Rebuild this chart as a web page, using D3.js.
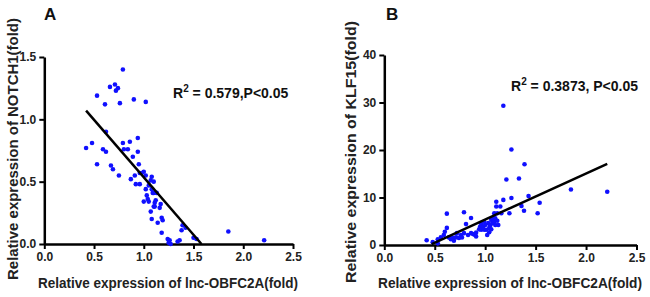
<!DOCTYPE html>
<html>
<head>
<meta charset="utf-8">
<script src="https://cdn.jsdelivr.net/npm/d3@7"></script>
<style>
  body { margin: 0; background: #fff; }
  svg text { font-family: Arial, "Liberation Sans", sans-serif; font-weight: bold; }
</style>
</head>
<body>
<svg id="chart" width="650" height="297"></svg>
<script>
// Panel A: lnc-OBFC2A vs NOTCH1
const notchPoints = [
  [0.42,0.77],[0.48,0.81],[0.53,1.19],[0.53,0.64],[0.61,1.12],[0.59,0.76],[0.62,0.74],[0.62,0.90],
  [0.66,1.26],[0.67,0.63],[0.69,0.60],[0.71,1.28],[0.72,1.23],[0.74,1.25],[0.76,1.13],[0.75,0.55],
  [0.79,1.40],[0.79,0.81],[0.80,0.76],[0.84,0.76],[0.86,0.82],[0.87,0.52],[0.90,1.16],[0.89,0.70],
  [0.91,0.55],[0.92,0.48],[0.94,0.85],[0.94,0.74],[0.95,0.64],[0.96,0.57],[0.96,0.48],[0.98,0.57],
  [1.00,0.58],[1.00,0.34],[1.02,1.14],[1.02,0.55],[1.02,0.44],[1.03,0.39],[1.04,0.36],[1.05,0.34],
  [1.05,0.47],[1.07,0.51],[1.08,0.54],[1.08,0.44],[1.09,0.41],[1.07,0.26],[1.08,0.20],[1.10,0.50],
  [1.10,0.41],[1.11,0.33],[1.11,0.30],[1.12,0.35],[1.10,0.30],[1.13,0.41],[1.14,0.17],[1.16,0.29],
  [1.17,0.32],[1.18,0.21],[1.19,0.19],[1.18,0.09],[1.24,0.04],[1.25,0.01],[1.26,0.03],[1.27,0.00],
  [1.34,0.02],[1.36,0.03],[1.38,0.11],[1.39,0.15],[1.42,0.13],[1.50,0.05],[1.53,0.04],[1.85,0.10],
  [2.21,0.03]
];
const notchFit = [[0.42,1.07],[1.58,0]];

// Panel B: lnc-OBFC2A vs KLF15
const klfPoints = [
  [0.42,1.0],[0.48,0.6],[0.53,1.2],[0.53,0.35],[0.56,1.6],[0.59,2.1],[0.60,2.8],[0.62,3.6],
  [0.62,6.6],[0.64,1.6],[0.66,1.2],[0.68,1.5],[0.69,0.9],[0.71,1.6],[0.72,2.5],[0.74,1.5],
  [0.76,2.1],[0.77,1.6],[0.79,2.5],[0.79,6.9],[0.81,4.4],[0.83,2.1],[0.86,2.5],[0.86,5.7],
  [0.88,2.3],[0.90,2.1],[0.91,2.6],[0.91,1.8],[0.94,3.3],[0.95,3.9],[0.96,4.6],[0.96,3.2],
  [0.98,3.9],[0.99,4.9],[0.99,3.2],[1.00,4.2],[1.01,3.2],[1.02,2.1],[1.03,4.6],[1.04,2.7],
  [1.04,3.6],[1.05,4.1],[1.06,5.3],[1.06,3.3],[1.07,4.6],[1.08,5.6],[1.09,6.7],[1.09,4.9],
  [1.10,4.2],[1.10,5.6],[1.11,8.1],[1.11,9.1],[1.12,6.7],[1.12,5.1],[1.13,4.2],[1.15,8.1],
  [1.16,6.7],[1.18,9.5],[1.18,29.3],[1.21,13.8],[1.24,6.7],[1.26,9.9],[1.26,20.1],[1.335,14.0],
  [1.36,8.2],[1.385,7.2],[1.39,17.0],[1.43,10.3],[1.54,8.9],[1.52,6.7],[1.85,11.7],[2.21,11.2]
];
const klfFit = [[0.47,0.2],[2.21,17.1]];

const xTicks = [0, 0.5, 1.0, 1.5, 2.0, 2.5];
const notchTicks = [0, 0.5, 1.0, 1.5];
const klfTicks = [0, 10, 20, 30, 40];

const svg = d3.select("#chart");

function drawPanel(opts) {
  const x = d3.scaleLinear().domain([0, 2.5]).range(opts.xRange);
  const y = d3.scaleLinear().domain(opts.yDomain).range(opts.yRange);
  const g = svg.append("g");

  // axes
  const xAxis = g.append("g")
    .attr("transform", "translate(0," + opts.yRange[0] + ")")
    .call(d3.axisBottom(x).tickValues(xTicks).tickFormat(d3.format(".1f"))
      .tickSize(5).tickSizeOuter(0).tickPadding(3));
  const yAxis = g.append("g")
    .attr("transform", "translate(" + opts.xRange[0] + ",0)")
    .call(d3.axisLeft(y).tickValues(opts.yTicks).tickFormat(opts.yFormat)
      .tickSize(5).tickSizeOuter(0).tickPadding(3));
  [xAxis, yAxis].forEach(a => {
    a.select(".domain").attr("stroke", "#000").attr("stroke-width", 2.5);
    a.selectAll(".tick line").attr("stroke", "#000").attr("stroke-width", 2);
    a.selectAll(".tick text").attr("fill", "#222").style("font-size", "12px");
  });

  // points
  g.append("g").selectAll("circle")
    .data(opts.points)
    .join("circle")
    .attr("cx", d => x(d[0]))
    .attr("cy", d => y(d[1]))
    .attr("r", 2.3)
    .attr("fill", "#1010ff");

  // fitted line
  g.append("path")
    .datum(opts.fit)
    .attr("fill", "none")
    .attr("stroke", "#000")
    .attr("stroke-width", 2.5)
    .attr("d", d3.line().x(d => x(d[0])).y(d => y(d[1])));

  // titles
  g.append("text")
    .attr("x", opts.xTitle[0]).attr("y", opts.xTitle[1])
    .attr("text-anchor", "middle")
    .attr("textLength", opts.xTitle[2]).attr("lengthAdjust", "spacingAndGlyphs")
    .style("font-size", "14px").attr("fill", "#222")
    .text("Relative expression of lnc-OBFC2A(fold)");
  g.append("text")
    .attr("transform", "translate(" + opts.yTitle[0] + "," + opts.yTitle[1] + ") rotate(-90)")
    .attr("text-anchor", "middle")
    .attr("textLength", 262).attr("lengthAdjust", "spacingAndGlyphs")
    .style("font-size", "14px").attr("fill", "#222")
    .text(opts.yLabel);

  g.append("text")
    .attr("x", opts.letter[0]).attr("y", opts.letter[1])
    .style("font-size", "17px").attr("fill", "#111")
    .text(opts.letterText);

  const r = g.append("text")
    .attr("x", opts.stat[0]).attr("y", opts.stat[1])
    .style("font-size", "14px").attr("fill", "#111");
  r.append("tspan").text("R");
  r.append("tspan").attr("dy", -6).style("font-size", "10px").text("2");
  r.append("tspan").attr("dy", 6).text(opts.statText);
}

drawPanel({
  xRange: [44.3, 293], yRange: [244, 57], yDomain: [0, 1.5],
  yTicks: notchTicks, yFormat: d3.format(".1f"),
  points: notchPoints, fit: notchFit,
  xTitle: [168, 288, 260], yTitle: [18, 149], yLabel: "Relative expression of NOTCH1(fold)",
  letter: [44, 20], letterText: "A",
  stat: [173, 98], statText: " = 0.579,P<0.05"
});

drawPanel({
  xRange: [384.3, 636.5], yRange: [245, 55], yDomain: [0, 40],
  yTicks: klfTicks, yFormat: d3.format("d"),
  points: klfPoints, fit: klfFit,
  xTitle: [510, 288, 264], yTitle: [356, 152], yLabel: "Relative expression of KLF15(fold)",
  letter: [386, 20], letterText: "B",
  stat: [511, 91], statText: " = 0.3873, P<0.05"
});
</script>
</body>
</html>
